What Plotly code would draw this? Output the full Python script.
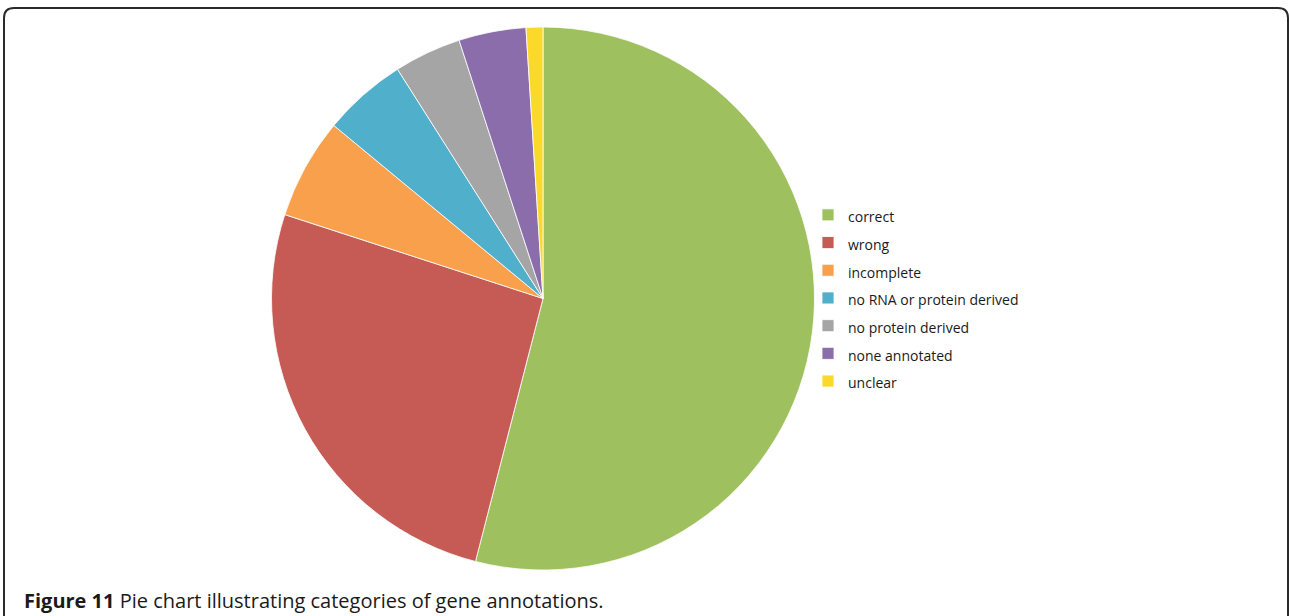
import plotly.graph_objects as go

W, H = 1289, 616

categories = ["correct", "wrong", "incomplete", "no RNA or protein derived",
              "no protein derived", "none annotated", "unclear"]
values = [54, 26, 6, 5, 4, 4, 1]
colors = ["#9FC05E", "#C65B55", "#F8A04C", "#50AFCA", "#A5A5A5", "#8A6DAA", "#FAD92A"]
caption_bold = "Figure 11"
caption_rest = "Pie chart illustrating categories of gene annotations."


def px_x(x):
    return x / W


def px_y(y):
    return 1 - y / H


legend_labels = ['<span style="font-size:14px">%s</span>' % c for c in categories]

fig = go.Figure(go.Pie(
    labels=legend_labels,
    values=values,
    marker=dict(colors=colors, line=dict(color="white", width=0.8)),
    sort=False,
    direction="clockwise",
    rotation=0,
    textinfo="none",
    hoverinfo="label+value+percent",
    domain=dict(x=[px_x(271), px_x(815)], y=[px_y(570), px_y(27)]),
))

# rounded frame
r = 10
x0, x1, yt, yb = 4, 1288, 8, 640
path = (f"M {px_x(x0)},{px_y(yb)} L {px_x(x0)},{px_y(yt + r)} "
        f"Q {px_x(x0)},{px_y(yt)} {px_x(x0 + r)},{px_y(yt)} "
        f"L {px_x(x1 - r)},{px_y(yt)} Q {px_x(x1)},{px_y(yt)} {px_x(x1)},{px_y(yt + r)} "
        f"L {px_x(x1)},{px_y(yb)}")

fig.update_layout(
    width=W, height=H,
    margin=dict(l=0, r=0, t=0, b=0),
    paper_bgcolor="white",
    plot_bgcolor="white",
    font=dict(family="Open Sans, sans-serif", color="#222"),
    showlegend=True,
    legend=dict(
        x=px_x(848 - 40), xanchor="left",
        y=px_y(298), yanchor="middle",
        font=dict(size=19, color="#1a1a1a", family="Open Sans, sans-serif"),
        bgcolor="rgba(0,0,0,0)",
    ),
    shapes=[dict(type="path", path=path, xref="paper", yref="paper",
                 line=dict(color="#2a2a2a", width=2))],
    annotations=[dict(
        x=px_x(22), y=px_y(600), xref="paper", yref="paper",
        xanchor="left", yanchor="middle", showarrow=False,
        text=f"<b>{caption_bold}</b> {caption_rest}",
        font=dict(size=20, color="#1a1a1a", family="Open Sans, sans-serif"),
    )],
)

fig.write_html("out.html", config={"displayModeBar": False},
               post_script="document.body.style.margin='0';")
